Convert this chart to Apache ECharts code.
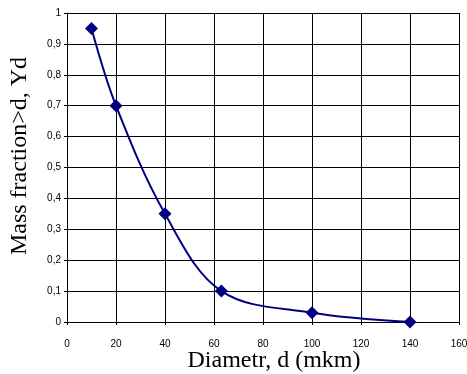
<!DOCTYPE html>
<html>
<head>
<meta charset="utf-8">
<script src="https://cdn.jsdelivr.net/npm/echarts@6/dist/echarts.min.js"></script>
<style>
  html, body { margin: 0; padding: 0; background: #fff; }
  #chart { width: 467px; height: 374px; }
</style>
</head>
<body>
<div id="chart"></div>
<script>
// diameter, mkm
const diameters = [10, 20, 40, 63, 100, 140];
// mass fraction > d
const fractions = [0.95, 0.70, 0.35, 0.10, 0.03, 0.0];

const chart = echarts.init(document.getElementById("chart"));

const gridLine = { show: true, lineStyle: { color: "#000", width: 1 } };
const labelFont = { fontFamily: "Liberation Sans", fontSize: 10, color: "#000" };
const titleFont = { fontFamily: "Liberation Serif", fontSize: 24, color: "#000" };

chart.setOption({
  animation: false,
  grid: { left: 67, top: 13, right: 8, bottom: 52, show: false, outerBoundsMode: "none" },
  xAxis: {
    type: "value",
    min: 0,
    max: 160,
    interval: 20,
    name: "Diametr, d (mkm)",
    nameLocation: "middle",
    nameGap: 27,
    nameMoveOverlap: false,
    nameTextStyle: { ...titleFont, padding: [0, 0, 0, 22] },
    axisLine: { show: true, onZero: false, lineStyle: { color: "#000" } },
    axisTick: { show: true, length: 3, lineStyle: { color: "#000" } },
    axisLabel: { ...labelFont, margin: 17 },
    splitLine: gridLine
  },
  yAxis: {
    type: "value",
    min: 0,
    max: 1,
    interval: 0.1,
    name: "Mass fraction>d, Yd",
    nameLocation: "middle",
    nameGap: 35,
    nameMoveOverlap: false,
    nameTextStyle: { ...titleFont, padding: [0, 0, 0, 23] },
    axisLine: { show: true, onZero: false, lineStyle: { color: "#000" } },
    axisTick: { show: true, length: 3, lineStyle: { color: "#000" } },
    axisLabel: {
      ...labelFont,
      margin: 6,
      formatter: v => String(Math.round(v * 10) / 10).replace(".", ",")
    },
    splitLine: gridLine
  },
  series: [
    {
      type: "line",
      data: diameters.map((d, i) => [d, fractions[i]]),
      smooth: 0.35,
      symbol: "diamond",
      symbolSize: 13,
      lineStyle: { color: "#000080", width: 2 },
      itemStyle: { color: "#000080" }
    }
  ]
});
</script>
</body>
</html>
